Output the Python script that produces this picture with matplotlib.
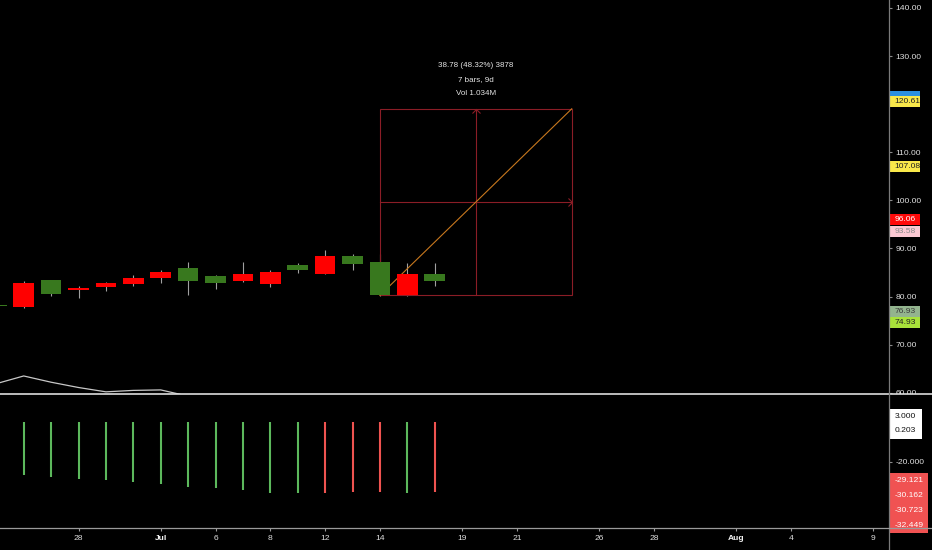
import matplotlib.pyplot as plt
from matplotlib import font_manager
from matplotlib.patches import Rectangle
from matplotlib.lines import Line2D
from matplotlib.path import Path
from matplotlib.transforms import blended_transform_factory

# narrow font if the system has it, otherwise Liberation Sans
try:
    font_manager.findfont(font_manager.FontProperties(family='Liberation Sans Narrow'),
                          fallback_to_default=False)
    FAM, FS = 'Liberation Sans Narrow', 7.3
except ValueError:
    FAM, FS = 'Liberation Sans', 6.1
plt.rcParams['font.family'] = [FAM, 'DejaVu Sans']

# candles, index 0 = Jun 23 (trading days)
opens  = [77.95, 82.76, 80.54, 81.80, 82.90, 83.87, 85.05, 83.30, 82.90, 84.76, 85.05, 85.47, 88.50, 86.70, 80.40, 84.70, 83.30]
highs  = [78.10, 83.20, 83.50, 82.20, 83.10, 84.50, 85.53, 87.20, 84.45, 87.10, 85.53, 87.05, 89.70, 88.90, 88.90, 87.05, 86.90]
lows   = [77.95, 77.70, 80.20, 79.65, 81.20, 82.15, 82.90, 80.40, 81.65, 83.00, 82.00, 84.90, 84.60, 85.60, 80.13, 80.20, 82.30]
closes = [78.10, 77.90, 83.45, 81.43, 82.00, 82.68, 83.93, 86.00, 84.30, 83.24, 82.68, 86.63, 84.63, 88.50, 87.20, 80.30, 84.70]

# white line at bottom of price pane
line_vals = [61.9, 63.5, 62.2, 61.1, 60.2, 60.5, 60.6, 59.3, 58.8]

# lower pane histogram, index 1..16
hist_vals = [-26.5, -27.5, -28.4, -29.0, -29.9, -31.0, -32.5, -33.0, -34.0, -35.5, -35.5, -35.5, -35.0, -35.0, -35.5, -35.0]
hist_up   = [True] * 11 + [False, False, False, True, False]

# date axis
tick_idx    = [3, 6, 8, 10, 12, 14, 17, 19, 22, 24, 27, 29, 32]
tick_labels = ['28', 'Jul', '6', '8', '12', '14', '19', '21', '26', '28', 'Aug', '4', '9']

# measure tool
m_start, m_end = 14, 21
m_low, m_high = 80.26, 119.04
m_text = ['38.78 (48.32%) 3878', '7 bars, 9d', 'Vol 1.034M']

# right scale (120.00 sits under the 120.61 label)
price_ticks = [60, 70, 80, 90, 100, 110, 130, 140]
price_labels = [(120.61, '#f9e84a', '#222222'), (107.08, '#f9e84a', '#222222'),
                (96.06, '#ff0a0a', '#ffffff'), (93.58, '#fbc9d3', '#8a8a8a'),
                (76.93, '#93b48e', '#3a3a3a'), (74.93, '#a8e23a', '#222222')]
blue_label = 121.7
osc_ticks = [-20]
osc_labels_white = [3.000, 0.203]
osc_labels_red = [-29.121, -30.162, -30.723, -32.449]

W, H = 932, 550
fig = plt.figure(figsize=(W / 100, H / 100), dpi=100, facecolor='black')
ax = fig.add_axes([0, 1 - 393.5 / H, 888.5 / W, 393.5 / H], facecolor='black')
ax2 = fig.add_axes([0, 1 - 527.5 / H, 888.5 / W, 134 / H], facecolor='black')

for a in (ax, ax2):
    for s in a.spines.values():
        s.set_visible(False)
    a.set_xlim(0.135, 32.56)

ax.set_ylim(59.854, 141.663)
ax2.set_ylim(-52.75, 14.25)

green, red, wick = '#38781e', '#ff0000', '#a0a0a0'
idx = list(range(len(opens)))
cols = [green if c >= o else red for o, c in zip(opens, closes)]
ax.vlines(idx, lows, highs, color=wick, lw=0.8, zorder=2)
bottoms = [min(o, c) for o, c in zip(opens, closes)]
heights = [max(abs(c - o), 0.2) for o, c in zip(opens, closes)]
ax.bar(idx, heights, bottom=bottoms, width=0.75, color=cols, zorder=4)

ax.plot(range(len(line_vals)), line_vals, color='#c8c8c8', lw=0.9, zorder=2)

# measure box
box_c = '#8b1d26'
m_mid = (m_start + m_end) / 2
p_mid = (m_low + m_high) / 2
ax.add_patch(Rectangle((m_start, m_low), m_end - m_start, m_high - m_low,
                       fill=False, ec=box_c, lw=0.8, zorder=3))
ax.plot([m_mid, m_mid], [m_low, m_high], color=box_c, lw=0.8, zorder=3)
ax.plot([m_start, m_end], [p_mid, p_mid], color=box_c, lw=0.8, zorder=3)
ax.plot([m_start, m_end], [m_low, m_high], color='#c8781e', lw=0.8, zorder=3)
up_chev = Path([(-1, -1), (0, 0), (1, -1)], [Path.MOVETO, Path.LINETO, Path.LINETO])
rt_chev = Path([(-1, 1), (0, 0), (-1, -1)], [Path.MOVETO, Path.LINETO, Path.LINETO])
ax.plot([m_mid], [m_high], marker=up_chev, ms=5.8, mfc='none', mec=box_c, mew=0.8, zorder=3)
ax.plot([m_end], [p_mid], marker=rt_chev, ms=5.8, mfc='none', mec=box_c, mew=0.8, zorder=3)
for k, t in enumerate(m_text):
    ax.annotate(t, (m_mid, m_high), xytext=(0, 31.3 - k * 10.2), textcoords='offset points',
                ha='center', va='center', color='#e6e6e6', fontsize=FS - 0.3)

# lower histogram
hx = list(range(1, len(hist_vals) + 1))
hcols = ['#5cb85c' if u else '#ef5350' for u in hist_up]
ax2.vlines(hx, 0.2, hist_vals, colors=hcols, lw=1.5)

# price scale
ax.set_xticks([])
ax.yaxis.tick_right()
ax.set_yticks(price_ticks)
ax.set_yticklabels(['%.2f' % v for v in price_ticks])
ax.tick_params(axis='y', colors='#8a8a8a', labelcolor='#e0e0e0', length=2.5, width=0.8,
               pad=2.5, labelsize=FS, direction='out')

ax2.yaxis.tick_right()
ax2.set_yticks(osc_ticks)
ax2.set_yticklabels(['%.3f' % v for v in osc_ticks])
ax2.tick_params(axis='y', colors='#8a8a8a', labelcolor='#e0e0e0', length=2.5, width=0.8,
                pad=2.5, labelsize=FS)
ax2.set_xticks(tick_idx)
ax2.set_xticklabels(tick_labels)
ax2.tick_params(axis='x', colors='#9a9a9a', labelcolor='#e0e0e0', length=2.5, width=0.8,
                pad=3, labelsize=FS)
for t in ax2.get_xticklabels():
    if t.get_text() in ('Jul', 'Aug'):
        t.set_fontweight('bold')
        t.set_color('#f4f4f4')

zo = [5]


def scale_label(a, y, text, fc, tc, h, w=31):
    tr = blended_transform_factory(fig.transFigure, a.transData)
    a.add_patch(Rectangle((889 / W, y - h / 2), w / W, h, transform=tr, fc=fc, ec='none',
                          clip_on=False, zorder=zo[0]))
    a.text(894.5 / W, y, text, transform=tr, ha='left', va='center', color=tc, fontsize=FS,
           clip_on=False, zorder=zo[0] + 0.5)
    zo[0] += 1


def stacked(vals, h):
    out, prev = [], None
    for v in vals:
        p = v if prev is None else min(v, prev - h)
        out.append(p)
        prev = p
    return out


ph = 10.8 / 4.81
scale_label(ax, blue_label, '', '#2a8fe0', '#2a8fe0', ph)
pos = stacked([v for v, _, _ in price_labels], ph)
for (v, fc, tc), p in zip(price_labels, pos):
    scale_label(ax, p, '%.2f' % v, fc, tc, ph)

oh = 15 / 2
for v, p in zip(osc_labels_white, stacked(osc_labels_white, oh)):
    scale_label(ax2, p, '%.3f' % v, '#ffffff', '#111111', oh, w=33)
for v, p in zip(osc_labels_red, stacked(osc_labels_red, oh)):
    scale_label(ax2, p, '%.3f' % v, '#f05252', '#ffffff', oh, w=39)

# hide the part of the 60.00 label under the divider
fig.add_artist(Rectangle((889 / W, 1 - 407 / H), 43 / W, 13.5 / H, transform=fig.transFigure,
                         fc='black', ec='none', zorder=1))
# pane divider, scale line, time axis line
fig.add_artist(Line2D([0, 1], [1 - 393.5 / H] * 2, color='#dcdcdc', lw=1.2, zorder=2))
fig.add_artist(Line2D([888.5 / W] * 2, [0, 1], color='#7a7a7a', lw=0.9, zorder=2))
fig.add_artist(Line2D([0, 1], [1 - 527.5 / H] * 2, color='#9a9a9a', lw=0.9, zorder=2))

fig.savefig('out.png', dpi=100, facecolor='black')
